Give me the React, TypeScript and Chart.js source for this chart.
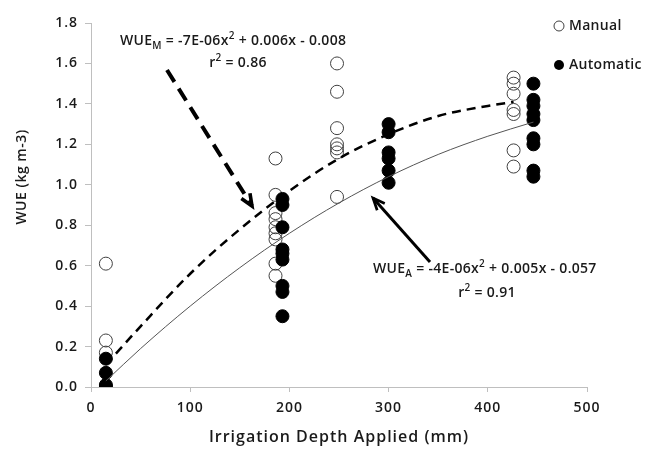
import React, { useEffect, useRef } from "react";
import { Chart, registerables } from "chart.js";

Chart.register(...registerables);

// Manual irrigation observations (open circles)
const manualDepth = [
  15, 15, 15,
  186, 186, 186, 186, 186, 186, 186, 186, 186,
  248, 248, 248, 248, 248, 248, 248,
  426, 426, 426, 426, 426, 426, 426,
];
const manualWUE = [
  0.61, 0.23, 0.17,
  1.13, 0.95, 0.86, 0.83, 0.79, 0.76, 0.73, 0.61, 0.55,
  1.6, 1.46, 1.28, 1.2, 1.18, 1.16, 0.94,
  1.53, 1.5, 1.45, 1.37, 1.35, 1.17, 1.09,
];

// Automatic irrigation observations (filled circles)
const autoDepth = [
  15, 15, 15, 15,
  193, 193, 193, 193, 193, 193, 193, 193, 193,
  300, 300, 300, 300, 300, 300,
  446, 446, 446, 446, 446, 446, 446, 446, 446,
];
const autoWUE = [
  0.14, 0.07, 0.01, 0.0,
  0.93, 0.9, 0.79, 0.68, 0.66, 0.63, 0.5, 0.47, 0.35,
  1.3, 1.26, 1.16, 1.13, 1.07, 1.01,
  1.5, 1.42, 1.39, 1.35, 1.32, 1.23, 1.2, 1.07, 1.04,
];

// Trend lines
const manualFitDepth = [15, 50, 100, 150, 200, 250, 300, 350, 400, 426];
const manualFitWUE = [0.11, 0.3, 0.56, 0.78, 0.97, 1.13, 1.25, 1.34, 1.39, 1.41];
const autoFitDepth = [15, 50, 100, 150, 200, 250, 300, 350, 400, 446];
const autoFitWUE = [0.03, 0.19, 0.4, 0.59, 0.76, 0.91, 1.04, 1.15, 1.24, 1.31];

const seriesLabels = ["Manual", "Automatic"];
const xTitle = "Irrigation Depth Applied (mm)";
const yTitle = "WUE (kg m-3)";

const FONT = "'Open Sans', 'DejaVu Sans', sans-serif";
const WEIGHT = 600;
const TEXT = "#1a1a1a";

const pairs = (xs: number[], ys: number[]) => xs.map((x, i) => ({ x, y: ys[i] }));

type Part = { t: string; sub?: boolean; sup?: boolean };

function drawParts(ctx: CanvasRenderingContext2D, parts: Part[], x: number, y: number, align: "left" | "center") {
  const base = `${WEIGHT} 14px ${FONT}`;
  const small = `${WEIGHT} 10px ${FONT}`;
  let total = 0;
  for (const p of parts) {
    ctx.font = p.sub || p.sup ? small : base;
    total += ctx.measureText(p.t).width;
  }
  let cx = align === "center" ? x - total / 2 : x;
  for (const p of parts) {
    ctx.font = p.sub || p.sup ? small : base;
    const dy = p.sub ? 4 : p.sup ? -6 : 0;
    ctx.fillText(p.t, cx, y + dy);
    cx += ctx.measureText(p.t).width;
  }
}

function drawArrow(
  ctx: CanvasRenderingContext2D,
  x1: number, y1: number, x2: number, y2: number,
  width: number, dash: number[], head: number
) {
  ctx.save();
  ctx.strokeStyle = "#000";
  ctx.lineWidth = width;
  ctx.lineCap = "butt";
  ctx.setLineDash(dash);
  ctx.beginPath();
  ctx.moveTo(x1, y1);
  ctx.lineTo(x2, y2);
  ctx.stroke();
  ctx.setLineDash([]);
  const ang = Math.atan2(y2 - y1, x2 - x1);
  ctx.lineWidth = width * 0.9;
  ctx.beginPath();
  ctx.moveTo(x2 - head * Math.cos(ang - 0.4), y2 - head * Math.sin(ang - 0.4));
  ctx.lineTo(x2, y2);
  ctx.lineTo(x2 - head * Math.cos(ang + 0.4), y2 - head * Math.sin(ang + 0.4));
  ctx.stroke();
  ctx.restore();
}

const annotations = {
  id: "annotations",
  beforeDraw(chart: any) {
    (chart.ctx as any).letterSpacing = "1px";
  },
  afterDraw(chart: any) {
    const ctx: CanvasRenderingContext2D = chart.ctx;
    ctx.save();
    (ctx as any).letterSpacing = "0.3px";
    ctx.fillStyle = TEXT;
    ctx.textBaseline = "alphabetic";
    ctx.textAlign = "left";

    drawParts(ctx, [
      { t: "WUE" }, { t: "M", sub: true }, { t: " = -7E-06x" }, { t: "2", sup: true }, { t: " + 0.006x - 0.008" },
    ], 120, 45, "left");
    drawParts(ctx, [{ t: "r" }, { t: "2", sup: true }, { t: " = 0.86" }], 238, 67, "center");

    drawParts(ctx, [
      { t: "WUE" }, { t: "A", sub: true }, { t: " = -4E-06x" }, { t: "2", sup: true }, { t: " + 0.005x - 0.057" },
    ], 373, 273, "left");
    drawParts(ctx, [{ t: "r" }, { t: "2", sup: true }, { t: " = 0.91" }], 487, 297, "center");

    // y axis title
    ctx.save();
    (ctx as any).letterSpacing = "0.5px";
    ctx.translate(22, 177);
    ctx.rotate(-Math.PI / 2);
    ctx.font = `${WEIGHT} 14px ${FONT}`;
    ctx.textAlign = "center";
    ctx.textBaseline = "middle";
    ctx.fillText(yTitle, 0, 0);
    ctx.restore();

    // legend
    (ctx as any).letterSpacing = "0.3px";
    ctx.font = `${WEIGHT} 14px ${FONT}`;
    ctx.textBaseline = "middle";
    ctx.textAlign = "left";
    ctx.lineWidth = 1;
    ctx.strokeStyle = "#404040";
    ctx.beginPath();
    ctx.arc(559, 26, 5, 0, Math.PI * 2);
    ctx.stroke();
    ctx.fillText(seriesLabels[0], 569, 26);
    ctx.fillStyle = "#000";
    ctx.beginPath();
    ctx.arc(559, 65, 5, 0, Math.PI * 2);
    ctx.fill();
    ctx.fillStyle = TEXT;
    ctx.fillText(seriesLabels[1], 569, 65);

    drawArrow(ctx, 167, 70, 252, 206, 4, [14, 8], 13);
    drawArrow(ctx, 430, 262, 373, 198, 3, [], 13);
    ctx.restore();
  },
};

export default function App() {
  const ref = useRef<HTMLCanvasElement | null>(null);

  useEffect(() => {
    if (!ref.current) return;
    const chart = new Chart(ref.current, {
      type: "scatter",
      data: {
        datasets: [
          {
            label: "Manual fit",
            data: pairs(manualFitDepth, manualFitWUE),
            showLine: true,
            borderColor: "#000",
            borderWidth: 2.5,
            borderDash: [9, 6],
            pointRadius: 0,
            cubicInterpolationMode: "monotone",
            order: 0,
          } as any,
          {
            label: "Automatic fit",
            data: pairs(autoFitDepth, autoFitWUE),
            showLine: true,
            borderColor: "#555",
            borderWidth: 1,
            pointRadius: 0,
            cubicInterpolationMode: "monotone",
            order: 1,
          } as any,
          {
            label: seriesLabels[1],
            data: pairs(autoDepth, autoWUE),
            pointRadius: 6.5,
            pointBackgroundColor: "#000",
            pointBorderColor: "#000",
            pointBorderWidth: 1,
            order: 2,
          },
          {
            label: seriesLabels[0],
            data: pairs(manualDepth, manualWUE),
            pointRadius: 6.5,
            pointBackgroundColor: "rgba(255,255,255,0)",
            pointBorderColor: "#404040",
            pointBorderWidth: 1,
            order: 3,
          },
        ],
      },
      options: {
        animation: false,
        responsive: true,
        maintainAspectRatio: false,
        layout: { padding: { top: 23, right: 61, left: 0, bottom: 0 } },
        plugins: { legend: { display: false }, tooltip: { enabled: false } },
        scales: {
          x: {
            type: "linear",
            min: 0,
            max: 500,
            ticks: {
              stepSize: 100,
              color: TEXT,
              padding: 8,
              font: { family: FONT, size: 14, weight: WEIGHT as any },
            },
            grid: { drawOnChartArea: false, drawTicks: true, tickLength: 5, color: "#bfbfbf" },
            border: { display: true, color: "#bfbfbf", width: 1 },
            title: {
              display: true,
              text: xTitle,
              color: TEXT,
              font: { family: FONT, size: 16, weight: WEIGHT as any },
              padding: { top: 4, bottom: 11 },
            },
            afterFit: (s: any) => {
              s.height = 71;
            },
          },
          y: {
            type: "linear",
            min: 0,
            max: 1.8,
            ticks: {
              stepSize: 0.2,
              color: TEXT,
              padding: 7,
              font: { family: FONT, size: 14, weight: WEIGHT as any },
              callback: (v: any) => Number(v).toFixed(1),
            },
            grid: { drawOnChartArea: false, drawTicks: true, tickLength: 6, color: "#bfbfbf" },
            border: { display: true, color: "#bfbfbf", width: 1 },
            afterFit: (s: any) => {
              s.width = 91;
            },
          },
        },
      },
      plugins: [annotations],
    });
    return () => chart.destroy();
  }, []);

  return (
    <div style={{ position: "fixed", left: 0, top: 0, width: 648, height: 458, background: "#fff" }}>
      <canvas ref={ref} />
    </div>
  );
}
